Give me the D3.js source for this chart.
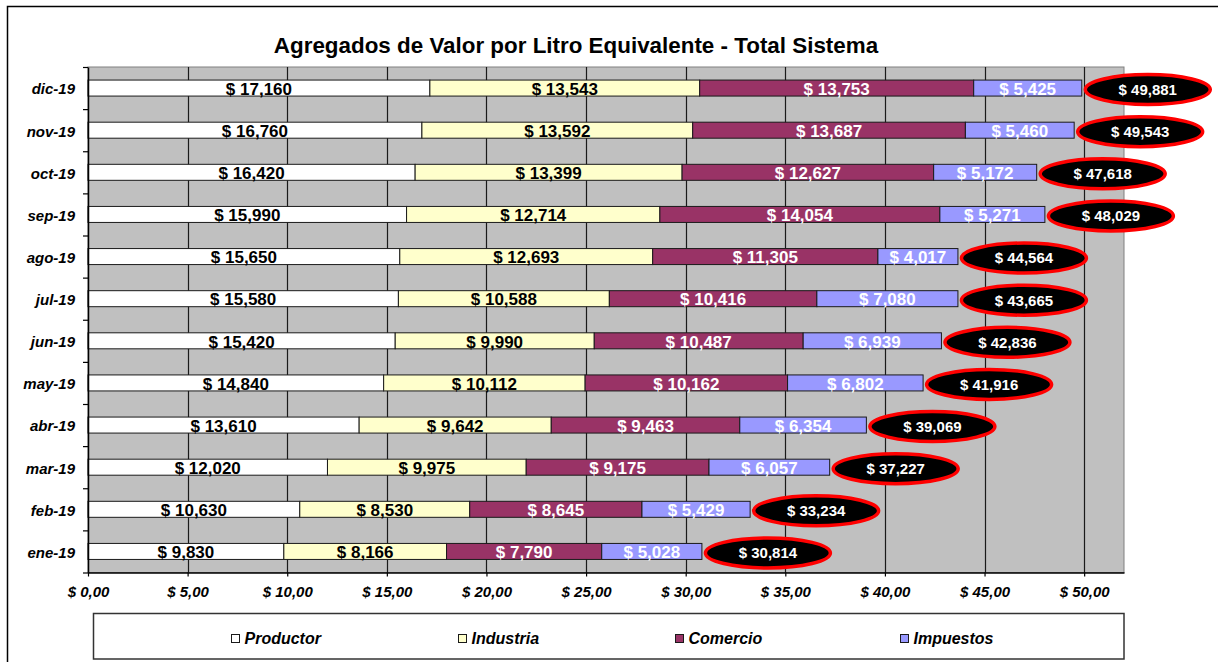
<!DOCTYPE html>
<html>
<head>
<meta charset="utf-8">
<script src="https://cdn.jsdelivr.net/npm/d3@7"></script>
<style>
  body { margin: 0; background: #fff; }
  svg { display: block; font-family: Arial, 'Liberation Sans', sans-serif; }
</style>
</head>
<body>
<svg id="chart" width="1218" height="662"></svg>
<script>
// months, chronological (drawn with dic-19 on top)
const months = ['ene-19', 'feb-19', 'mar-19', 'abr-19', 'may-19', 'jun-19',
  'jul-19', 'ago-19', 'sep-19', 'oct-19', 'nov-19', 'dic-19'];

const productor = [9.830, 10.630, 12.020, 13.610, 14.840, 15.420, 15.580, 15.650, 15.990, 16.420, 16.760, 17.160];
const industria = [8.166, 8.530, 9.975, 9.642, 10.112, 9.990, 10.588, 12.693, 12.714, 13.399, 13.592, 13.543];
const comercio = [7.790, 8.645, 9.175, 9.463, 10.162, 10.487, 10.416, 11.305, 14.054, 12.627, 13.687, 13.753];
const impuestos = [5.028, 5.429, 6.057, 6.354, 6.802, 6.939, 7.080, 4.017, 5.271, 5.172, 5.460, 5.425];
// totals as labelled in the source chart
const totales = [30.814, 33.234, 37.227, 39.069, 41.916, 42.836, 43.665, 44.564, 48.029, 47.618, 49.543, 49.881];

const xTicks = [0, 5, 10, 15, 20, 25, 30, 35, 40, 45, 50];

const seriesNames = ['Productor', 'Industria', 'Comercio', 'Impuestos'];
const seriesValues = [productor, industria, comercio, impuestos];
const seriesFill = ['#ffffff', '#ffffcc', '#993366', '#9999ff'];
const seriesText = ['#000', '#000', '#fff', '#fff'];

const locale = d3.formatLocale({ decimal: ',', thousands: '.', grouping: [3], currency: ['$ ', ''] });
const fmtVal = locale.format('$.3f');
const fmtAxis = locale.format('$.2f');

const svg = d3.select('#chart');
const plot = { left: 88, right: 1124, top: 67, bottom: 572.5 };

// outer frame
svg.append('rect')
  .attr('x', 7.5).attr('y', 6.5)
  .attr('width', 1300).attr('height', 700)
  .attr('fill', '#fff').attr('stroke', '#000').attr('stroke-width', 1.5);

svg.append('text')
  .attr('x', 576).attr('y', 53)
  .attr('text-anchor', 'middle')
  .attr('font-size', 22.4).attr('font-weight', 'bold')
  .text('Agregados de Valor por Litro Equivalente - Total Sistema');

const x = d3.scaleLinear().domain([0, 52]).range([plot.left, plot.right]);
const y = d3.scaleBand()
  .domain(months.slice().reverse())
  .range([plot.top, plot.bottom])
  .paddingInner(0.62)
  .paddingOuter(0.31);
const yEdge = d3.scaleLinear().domain([0, months.length]).range([plot.top, plot.bottom]);

// plot background
svg.append('rect')
  .attr('x', plot.left).attr('y', plot.top)
  .attr('width', plot.right - plot.left).attr('height', plot.bottom - plot.top)
  .attr('fill', '#c0c0c0').attr('stroke', '#808080').attr('stroke-width', 1);

// vertical grid
svg.append('g')
  .selectAll('line')
  .data(xTicks.slice(1))
  .join('line')
  .attr('x1', d => Math.round(x(d)) + 0.5).attr('x2', d => Math.round(x(d)) + 0.5)
  .attr('y1', plot.top).attr('y2', plot.bottom)
  .attr('stroke', '#1a1a1a').attr('stroke-width', 1.2);

// stacked rows
const rows = months.map(function (m, i) {
  let x0 = 0;
  const segs = seriesValues.map(function (vals, s) {
    const seg = { month: m, s: s, x0: x0, x1: x0 + vals[i], v: vals[i] };
    x0 += vals[i];
    return seg;
  });
  return { month: m, segs: segs, end: x0, total: totales[i] };
});

const bh = y.bandwidth();
const rowG = svg.append('g')
  .selectAll('g')
  .data(rows)
  .join('g')
  .attr('transform', d => `translate(0,${y(d.month)})`);

rowG.selectAll('rect')
  .data(d => d.segs)
  .join('rect')
  .attr('x', d => x(d.x0))
  .attr('y', 0)
  .attr('width', d => x(d.x1) - x(d.x0))
  .attr('height', bh)
  .attr('fill', d => seriesFill[d.s])
  .attr('stroke', '#1a1a1a').attr('stroke-width', 1);

rowG.selectAll('text.seg')
  .data(d => d.segs)
  .join('text')
  .attr('class', 'seg')
  .attr('x', d => (x(d.x0) + x(d.x1)) / 2)
  .attr('y', bh / 2 + 6.8)
  .attr('text-anchor', 'middle')
  .attr('font-size', 17).attr('font-weight', 'bold')
  .attr('fill', d => seriesText[d.s])
  .text(d => fmtVal(d.v));

// total bubbles
rowG.append('ellipse')
  .attr('cx', d => x(d.end) + 66)
  .attr('cy', bh / 2 + 1.5)
  .attr('rx', 62.5).attr('ry', 15)
  .attr('fill', '#000').attr('stroke', '#ff0000').attr('stroke-width', 3.5);

rowG.append('text')
  .attr('x', d => x(d.end) + 66)
  .attr('y', bh / 2 + 1.5)
  .attr('dy', '0.36em')
  .attr('text-anchor', 'middle')
  .attr('font-size', 15).attr('font-weight', 'bold')
  .attr('fill', '#fff')
  .text(d => fmtVal(d.total));

// x axis
const xAxis = svg.append('g')
  .attr('transform', `translate(0,${plot.bottom})`)
  .call(d3.axisBottom(x).tickValues(xTicks).tickSize(4).tickPadding(10).tickFormat(fmtAxis).tickSizeOuter(0));
xAxis.select('.domain').attr('stroke', '#000').attr('stroke-width', 1.5);
xAxis.selectAll('.tick line').attr('stroke', '#000').attr('stroke-width', 1.2);
xAxis.selectAll('text')
  .attr('font-size', 15).attr('font-weight', 'bold').attr('font-style', 'italic')
  .attr('font-family', null).attr('fill', '#000');

// y axis: boundary ticks + month labels
const yAxis = svg.append('g')
  .attr('transform', `translate(${plot.left},0)`)
  .call(d3.axisLeft(yEdge).ticks(months.length).tickSize(5).tickFormat('').tickSizeOuter(0));
yAxis.select('.domain').attr('stroke', '#000').attr('stroke-width', 1.5);
yAxis.selectAll('.tick line').attr('stroke', '#000').attr('stroke-width', 1.2);

const yLabels = svg.append('g')
  .attr('transform', `translate(${plot.left},0)`)
  .call(d3.axisLeft(y).tickSize(0).tickPadding(13));
yLabels.select('.domain').remove();
yLabels.selectAll('text')
  .attr('dy', '0.42em')
  .attr('font-size', 15).attr('font-weight', 'bold').attr('font-style', 'italic')
  .attr('font-family', null).attr('fill', '#000');

// legend
const legendX = [231, 458, 675, 900];
svg.append('rect')
  .attr('x', 93.5).attr('y', 613.5)
  .attr('width', plot.right - 93.5).attr('height', 45.5)
  .attr('fill', '#fff').attr('stroke', '#333').attr('stroke-width', 1.5);

const leg = svg.append('g')
  .selectAll('g')
  .data(seriesNames)
  .join('g')
  .attr('transform', (d, i) => `translate(${legendX[i]},634)`);

leg.append('rect')
  .attr('x', 0.5).attr('y', 0.5)
  .attr('width', 8).attr('height', 8)
  .attr('fill', (d, i) => seriesFill[i])
  .attr('stroke', '#1a1a1a').attr('stroke-width', 1);

leg.append('text')
  .attr('x', 13.5).attr('y', 9.5)
  .attr('font-size', 16).attr('font-weight', 'bold').attr('font-style', 'italic')
  .text(d => d);
</script>
</body>
</html>
